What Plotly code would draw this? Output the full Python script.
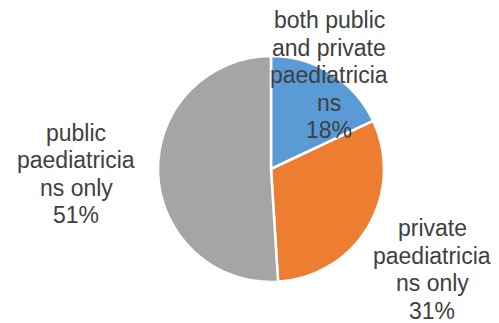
import plotly.graph_objects as go

# Share of paediatricians by sector
labels = ["both public and private paediatricians",
          "private paediatricians only",
          "public paediatricians only"]
label_lines = [["both public", "and private", "paediatricia", "ns"],
               ["private", "paediatricia", "ns only"],
               ["public", "paediatricia", "ns only"]]
values = [18, 31, 51]
colors = ["#5B9BD5", "#ED7D31", "#A5A5A5"]

W, H = 499, 323
cx, cy, r = 271, 169, 113  # pie centre and radius in pixels

fig = go.Figure(go.Pie(
    labels=labels,
    values=values,
    sort=False,
    direction="clockwise",
    rotation=0,
    textinfo="none",
    hoverinfo="label+percent",
    marker=dict(colors=colors, line=dict(color="white", width=2.5)),
    domain=dict(x=[(cx - r) / W, (cx + r) / W],
                y=[1 - (cy + r) / H, 1 - (cy - r) / H]),
    showlegend=False,
))

# Data labels: horizontal centre and baseline of the last line (pixels)
label_pos = [(329, 138.5), (432, 319), (76, 223.5)]
line_gap = 27.5
font_size = 23
total = sum(values)
for lines, v, (px, last_base) in zip(label_lines, values, label_pos):
    pct = round(100 * v / total)
    all_lines = lines + [f"{pct}%"]
    n = len(all_lines)
    for i, txt in enumerate(all_lines):
        base = last_base - (n - 1 - i) * line_gap
        mid = base - 0.36 * font_size
        fig.add_annotation(
            x=px / W, y=1 - mid / H, xref="paper", yref="paper",
            text=txt, showarrow=False, xanchor="center", yanchor="middle",
            font=dict(family="Liberation Sans, Arial, sans-serif",
                      size=font_size, color="#404040"),
        )

fig.update_layout(
    width=W, height=H,
    margin=dict(l=0, r=0, t=0, b=0),
    paper_bgcolor="white",
    plot_bgcolor="white",
)

fig.write_html("out.html")
